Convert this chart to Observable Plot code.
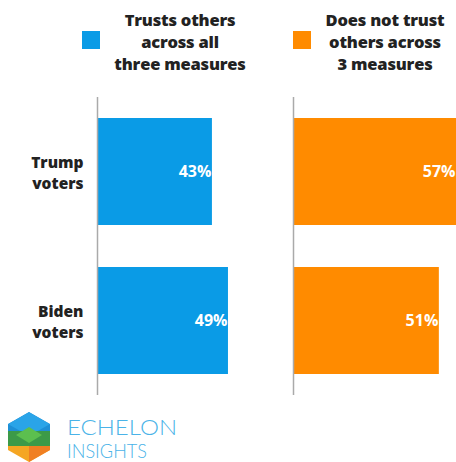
<!DOCTYPE html>
<html>
<head>
<meta charset="utf-8">
<script src="https://cdn.jsdelivr.net/npm/d3@7"></script>
<script src="https://cdn.jsdelivr.net/npm/@observablehq/plot@0.6"></script>
<style>
  html, body { margin: 0; padding: 0; background: #fff; }
  #wrap { position: relative; width: 456px; height: 462px; overflow: hidden; font-family: "Open Sans", sans-serif; }
  .panel { position: absolute; top: 97px; }
  .leg-sw { position: absolute; width: 18px; height: 18px; top: 31px; }
  .leg-tx { position: absolute; top: 9px; width: 170px; text-align: center; font-weight: 800; font-size: 16.5px; line-height: 22px; color: #222; letter-spacing: -0.2px; }
  #logo { position: absolute; left: 0; top: 404px; }
</style>
</head>
<body>
<div id="wrap"></div>
<script>
const categories = ["Trump voters", "Biden voters"];
const trustsAll = [43, 49];
const doesNotTrust = [57, 51];
const seriesNames = ["Trusts others\nacross all\nthree measures", "Does not trust\nothers across\n3 measures"];
const seriesColors = ["#0a9be6", "#ff8b00"];

const wrap = document.getElementById("wrap");

function panel(values, color, opts) {
  const data = categories.map((c, i) => ({cat: c, v: values[i]}));
  return Plot.plot({
    width: opts.width,
    height: 298,
    marginLeft: opts.marginLeft,
    marginRight: 0,
    marginTop: 0,
    marginBottom: 0,
    x: {domain: [0, opts.max], axis: null},
    y: {domain: categories, paddingInner: 0.28, paddingOuter: 0.134, axis: null},
    style: {fontFamily: "'Open Sans', sans-serif", background: "transparent"},
    marks: [
      Plot.barX(data, {x: "v", y: "cat", fill: color}),
      Plot.ruleX([0], {stroke: "#aaaaaa", strokeWidth: 1.5}),
      opts.labels ? Plot.axisY({label: null, tickSize: 0, tickPadding: 14, fontSize: 15.5, fontWeight: 800, lineHeight: 1.35, fill: "#222",
        tickFormat: d => d.replace(" ", "\n")}) : null,
      Plot.text(data, {x: "v", y: "cat", text: d => d.v + "%", textAnchor: "end", dx: -1,
        fill: "white", fontSize: 16, fontWeight: 700})
    ]
  });
}

const p1 = panel(trustsAll, seriesColors[0], {width: 244, marginLeft: 97, max: 55, labels: true});
p1.classList.add("panel"); p1.style.left = "0px";
const p2 = panel(doesNotTrust, seriesColors[1], {width: 206, marginLeft: 43, max: 57, labels: false});
p2.classList.add("panel"); p2.style.left = "250px";
wrap.appendChild(p1); wrap.appendChild(p2);

// legend
[[82, 95], [293, 300]].forEach(([sx, tx], i) => {
  const sw = document.createElement("div");
  sw.className = "leg-sw"; sw.style.left = sx + "px"; sw.style.background = seriesColors[i];
  wrap.appendChild(sw);
  const t = document.createElement("div");
  t.className = "leg-tx"; t.style.left = tx + "px";
  t.innerHTML = seriesNames[i].split("\n").join("<br>");
  wrap.appendChild(t);
});

// logo
const logo = document.createElement("div");
logo.id = "logo";
logo.innerHTML = `<svg width="200" height="58" xmlns="http://www.w3.org/2000/svg">
  <defs><clipPath id="hex"><polygon points="29,8 50,20 50,46 29,58 8,46 8,20"/></clipPath></defs>
  <g clip-path="url(#hex)">
    <rect x="0" y="0" width="60" height="27" fill="#1e8fd6"/>
    <polygon points="29,8 50,20 29,32 8,20" fill="#2aa4e8"/>
    <rect x="0" y="27" width="60" height="15" fill="#3c9a48"/>
    <polygon points="29,23 42,31 29,39 16,31" fill="#5cbf4f"/>
    <rect x="0" y="42" width="60" height="16" fill="#f5a623"/>
    <polygon points="29,42 50,42 50,58 29,58" fill="#f07f22"/>
  </g>
  <text x="67" y="31" font-family="Lato, 'Open Sans', sans-serif" font-weight="300" font-size="22" fill="#4ab3e8" textLength="110" lengthAdjust="spacingAndGlyphs">ECHELON</text>
  <text x="67" y="54" font-family="Lato, 'Open Sans', sans-serif" font-weight="300" font-size="19" fill="#4ab3e8" textLength="80" lengthAdjust="spacingAndGlyphs">INSIGHTS</text>
</svg>`;
wrap.appendChild(logo);
</script>
</body>
</html>
